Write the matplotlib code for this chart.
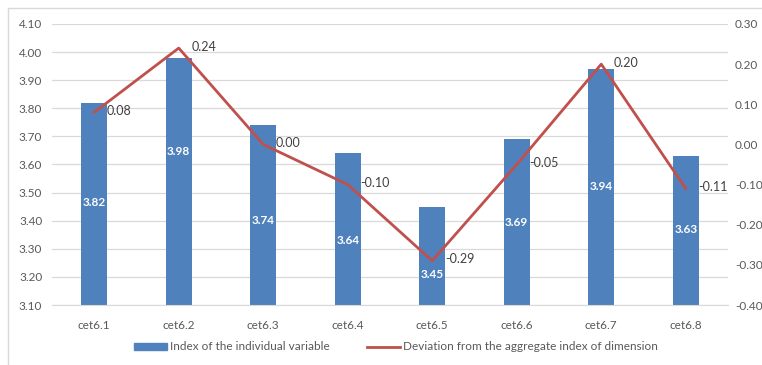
import matplotlib
matplotlib.use("Agg")
import matplotlib.pyplot as plt
from matplotlib.patches import Rectangle
from matplotlib.lines import Line2D
from matplotlib.ticker import FormatStrFormatter

categories = ["cet6.1", "cet6.2", "cet6.3", "cet6.4", "cet6.5", "cet6.6", "cet6.7", "cet6.8"]
index_values = [3.82, 3.98, 3.74, 3.64, 3.45, 3.69, 3.94, 3.63]
deviation_values = [0.08, 0.24, 0.00, -0.10, -0.29, -0.05, 0.20, -0.11]
# vertical placement of the white bar labels (left-axis units)
bar_label_y = [3.463, 3.645, 3.40, 3.33, 3.207, 3.395, 3.52, 3.367]

left_ticks = [3.10, 3.20, 3.30, 3.40, 3.50, 3.60, 3.70, 3.80, 3.90, 4.00, 4.10]
right_ticks = [-0.40, -0.30, -0.20, -0.10, 0.00, 0.10, 0.20, 0.30]

BLUE = "#4F81BD"
RED = "#C0504D"
TEXT = "#595959"
GRID = "#D9D9D9"

plt.rcParams["font.family"] = ["Lato", "DejaVu Sans"]

W, H = 762, 365
fig = plt.figure(figsize=(W / 100, H / 100), dpi=100)
fig.patch.set_facecolor("white")

# chart border
fig.add_artist(Rectangle((8 / W, -0.1), 1.2, (H - 8) / H + 0.1, transform=fig.transFigure,
                         fill=False, edgecolor="#D9D9D9", linewidth=1.0))

ax = fig.add_axes([52 / W, (H - 305) / H, (728 - 52) / W, (305 - 24) / H])
x = list(range(len(categories)))

ax.bar(x, [v - 3.10 for v in index_values], bottom=3.10, width=0.31, color=BLUE, zorder=2)
ax.set_ylim(3.10, 4.10)
ax.set_xlim(-0.5, len(categories) - 0.5)
ax.set_yticks(left_ticks)
ax.yaxis.set_major_formatter(FormatStrFormatter("%.2f"))
ax.set_xticks(x)
ax.set_xticklabels(categories)
ax.grid(axis="y", color=GRID, linewidth=0.9, zorder=0)
ax.set_axisbelow(True)
for s in ["left", "right", "top"]:
    ax.spines[s].set_visible(False)
ax.spines["bottom"].set_color(GRID)
ax.tick_params(axis="both", length=0, colors=TEXT, labelsize=8.5)
ax.tick_params(axis="x", pad=11)
ax.tick_params(axis="y", pad=7)

for xi, v, ly in zip(x, index_values, bar_label_y):
    ax.text(xi, ly, f"{v:.2f}", color="white", fontsize=8.5, fontweight="bold",
            ha="center", va="center", zorder=4)

ax2 = ax.twinx()
ax2.plot(x, deviation_values, color=RED, linewidth=2.0, zorder=3)
ax2.set_ylim(-0.40, 0.30)
ax2.set_yticks(right_ticks)
ax2.yaxis.set_major_formatter(FormatStrFormatter("%.2f"))
for s in ["left", "right", "top", "bottom"]:
    ax2.spines[s].set_visible(False)
ax2.tick_params(axis="y", length=0, colors=TEXT, labelsize=8.5, pad=5)

for xi, d in zip(x, deviation_values):
    ax2.annotate(f"{d:.2f}", (xi, d), xytext=(9, 1), textcoords="offset points",
                 ha="left", va="center", color="#404040", fontsize=9, zorder=5)

handles = [
    Rectangle((0, 0), 1, 1, color=BLUE),
    Line2D([0], [0], color=RED, linewidth=2),
]
fig.legend(handles, ["Index of the individual variable", "Deviation from the aggregate index of dimension"],
           loc="center", bbox_to_anchor=(396 / W, 1 - 347 / H), ncol=2, frameon=False,
           fontsize=8.5, labelcolor=TEXT, handlelength=2.8, handleheight=0.55,
           columnspacing=3.2, handletextpad=0.2)

fig.savefig("out.png", dpi=100, facecolor="white")
